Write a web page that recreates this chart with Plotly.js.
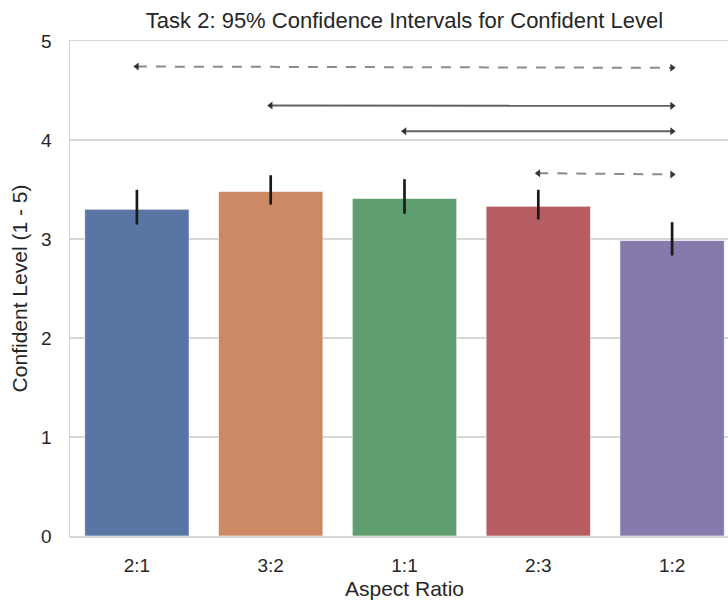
<!DOCTYPE html>
<html>
<head>
<meta charset="utf-8">
<script src="https://cdn.plot.ly/plotly-3.0.1.min.js"></script>
<style>
  html, body { margin: 0; padding: 0; overflow: hidden; background: #fff; }
  #chart { width: 760px; height: 602px; }
</style>
</head>
<body>
<div id="chart"></div>
<script>
// Aspect ratio categories and mean confidence ratings (1-5 scale)
const categories = ['2:1', '3:2', '1:1', '2:3', '1:2'];
const meanConfidence = [3.30, 3.48, 3.41, 3.33, 2.985];
// 95% confidence interval bounds (bootstrap, asymmetric)
const ciUpper = [3.497, 3.644, 3.604, 3.497, 3.17];
const ciLower = [3.146, 3.348, 3.255, 3.197, 2.833];
const barColors = ['#5975a4', '#cc8963', '#5f9e6e', '#b55d60', '#857aab'];

// Pairwise comparisons drawn as double-headed arrows above the bars
const compareFrom = ['2:1', '3:2', '1:1', '2:3'];
const compareTo = ['1:2', '1:2', '1:2', '1:2'];
const compareLevelFrom = [4.742, 4.348, 4.089, 3.665];
const compareLevelTo = [4.729, 4.345, 4.089, 3.652];
const compareSignificant = [false, true, true, false];

const yTicks = [0, 1, 2, 3, 4, 5];

const textColor = '#262626';
const fontFamily = 'Liberation Sans, Arial, sans-serif';
const gridColor = '#d6d6d6';

const idx = c => categories.indexOf(c);

const traces = [{
  type: 'bar',
  x: categories.map((c, i) => i),
  y: meanConfidence,
  width: 0.78,
  marker: { color: barColors, line: { color: 'rgba(255,255,255,0.6)', width: 1 } },
  error_y: {
    type: 'data',
    symmetric: false,
    array: ciUpper.map((u, i) => u - meanConfidence[i]),
    arrayminus: ciLower.map((l, i) => meanConfidence[i] - l),
    color: '#1a1a1a',
    thickness: 2.7,
    width: 0
  },
  hoverinfo: 'x+y'
}];

compareFrom.forEach((from, k) => {
  const sig = compareSignificant[k];
  traces.push({
    type: 'scatter',
    mode: 'lines+markers',
    x: [idx(from), idx(compareTo[k])],
    y: [compareLevelFrom[k], compareLevelTo[k]],
    line: {
      color: sig ? '#626262' : '#8c8c8c',
      width: 2,
      dash: sig ? 'solid' : '10px,9px'
    },
    marker: {
      symbol: ['triangle-left', 'triangle-right'],
      size: 7,
      color: '#333333'
    },
    hoverinfo: 'skip'
  });
});

const layout = {
  width: 760,
  height: 602,
  margin: { l: 70, r: 21, t: 41, b: 66 },
  paper_bgcolor: '#ffffff',
  plot_bgcolor: '#ffffff',
  showlegend: false,
  font: { family: fontFamily, color: textColor },
  title: {
    text: 'Task 2: 95% Confidence Intervals for Confident Level',
    font: { size: 22, color: textColor, family: fontFamily },
    x: 0.5,
    xref: 'paper',
    xanchor: 'center',
    y: 20,
    yref: 'container',
    yanchor: 'middle'
  },
  xaxis: {
    range: [-0.5, 4.5],
    tickmode: 'array',
    tickvals: categories.map((c, i) => i),
    ticktext: categories,
    tickfont: { size: 19, color: textColor },
    ticks: 'outside',
    ticklen: 12,
    tickcolor: 'rgba(0,0,0,0)',
    showgrid: false,
    zeroline: false,
    showline: true,
    linecolor: gridColor,
    linewidth: 1.5,
    mirror: true,
    title: { text: 'Aspect Ratio', font: { size: 21, color: textColor }, standoff: 6 }
  },
  yaxis: {
    range: [0, 5],
    tickmode: 'array',
    tickvals: yTicks,
    ticktext: yTicks.map(String),
    tickfont: { size: 19, color: textColor },
    ticks: 'outside',
    ticklen: 13,
    tickcolor: 'rgba(0,0,0,0)',
    showgrid: true,
    gridcolor: gridColor,
    gridwidth: 1.5,
    zeroline: false,
    showline: true,
    linecolor: gridColor,
    linewidth: 1.5,
    title: { text: 'Confident Level (1 - 5)', font: { size: 21, color: textColor }, standoff: 8 }
  },
  bargap: 0.2
};

Plotly.newPlot('chart', traces, layout, { displayModeBar: false, staticPlot: true });
</script>
</body>
</html>
